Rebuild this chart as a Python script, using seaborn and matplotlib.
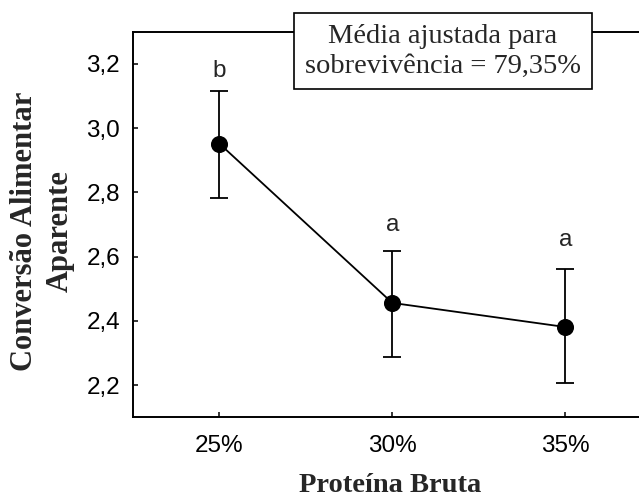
import numpy as np
import pandas as pd
import seaborn as sns
import matplotlib
matplotlib.use("Agg")
import matplotlib.pyplot as plt

# ---- data ----
categories = ["25%", "30%", "35%"]
means = [2.952, 2.456, 2.381]
err_low = [2.784, 2.288, 2.207]
err_high = [3.114, 2.616, 2.560]
letters = ["b", "a", "a"]
letter_y = [3.179, 2.698, 2.652]
yticks = [2.2, 2.4, 2.6, 2.8, 3.0, 3.2]
ytick_labels = ["2,2", "2,4", "2,6", "2,8", "3,0", "3,2"]
note_text = "Média ajustada para\nsobrevivência = 79,35%"
xlabel = "Proteína Bruta"
ylabel = "Conversão Alimentar\nAparente"

df = pd.DataFrame({"proteina": categories, "ca": means})

sns.set_style("white")
plt.rcParams["font.family"] = ["Liberation Sans", "DejaVu Sans"]

W, H = 639, 498
fig = plt.figure(figsize=(W / 100, H / 100), dpi=100)
ax_l, ax_r, ax_t, ax_b = 133.3, 639.0, 31.7, 417.3
ax = fig.add_axes([ax_l / W, 1 - ax_b / H, (ax_r - ax_l) / W, (ax_b - ax_t) / H])

sns.pointplot(data=df, x="proteina", y="ca", order=categories, color="black",
              errorbar=None, markers="o", linestyles="-", markersize=11.3,
              linewidth=1.3, ax=ax)

pos = np.arange(len(categories))
m = np.array(means)
yerr = [m - np.array(err_low), np.array(err_high) - m]
ax.errorbar(pos, m, yerr=yerr, fmt="none", ecolor="black", elinewidth=1.3,
            capsize=6.8, capthick=1.3, zorder=1)

for i, (lt, ly) in enumerate(zip(letters, letter_y)):
    ax.text(pos[i], ly, lt, ha="center", va="center", fontsize=17.5,
            family=["Liberation Sans", "DejaVu Sans"])

ax.set_xlim(-0.497, 2.426)
ax.set_ylim(2.1, 3.3)
ax.set_yticks(yticks)
ax.set_yticklabels(ytick_labels)
ax.set_xticks(pos)
ax.set_xticklabels(categories)

ax.tick_params(axis="both", direction="in", length=3.6, width=1.1,
               labelsize=17.5, colors="black")
ax.tick_params(axis="y", pad=9.5, left=True, right=False)
ax.tick_params(axis="x", pad=13, bottom=True, top=False)

for s in ["left", "bottom", "top"]:
    ax.spines[s].set_visible(True)
    ax.spines[s].set_color("black")
    ax.spines[s].set_linewidth(1.4)
ax.spines["right"].set_visible(False)

ax.set_xlabel(xlabel, fontsize=20.5, fontweight="bold",
              family=["Liberation Serif", "DejaVu Serif"])
ax.xaxis.label.set_va("baseline")
ax.set_ylabel(ylabel, fontsize=22, fontweight="bold",
              family=["Liberation Serif", "DejaVu Serif"], linespacing=1.3)
ax.xaxis.set_label_coords((390 - ax_l) / (ax_r - ax_l), (ax_b - 491.5) / (ax_b - ax_t))
ax.yaxis.set_label_coords((75 - ax_l) / (ax_r - ax_l), (ax_b - 231) / (ax_b - ax_t))

ax.text((443 - ax_l) / (ax_r - ax_l), (ax_b - 51.3) / (ax_b - ax_t), note_text,
        transform=ax.transAxes, ha="center", va="center", fontsize=20.5,
        family=["Liberation Serif", "DejaVu Serif"], linespacing=1.25,
        clip_on=False, zorder=10,
        bbox=dict(boxstyle="square,pad=0.37", facecolor="white",
                  edgecolor="black", linewidth=1.2))

fig.savefig("out.png", dpi=100)
